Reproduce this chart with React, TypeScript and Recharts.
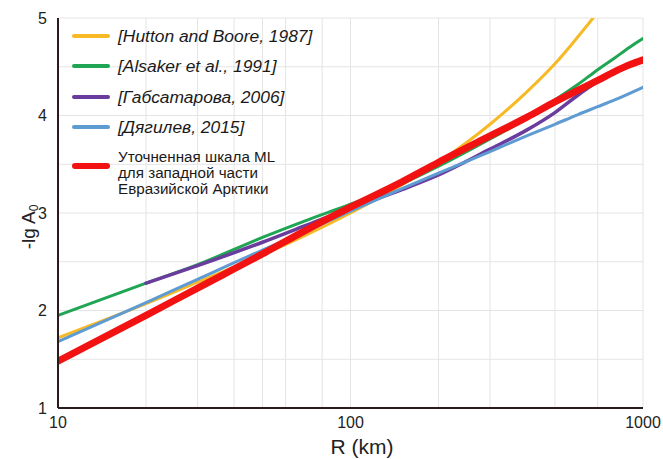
import React from "react";
import { LineChart, Line, XAxis, YAxis, CartesianGrid } from "recharts";

// -lg A0 calibration curves
const huttonR = [10, 20, 30, 50, 70, 100, 150, 200, 300, 400, 500, 600, 675];
const huttonA = [1.72, 2.07, 2.29, 2.57, 2.77, 3.0, 3.29, 3.52, 3.91, 4.24, 4.53, 4.81, 5.0];

const alsakerR = [10, 20, 30, 50, 70, 100, 150, 200, 300, 400, 500, 600, 700, 800, 900, 1000];
const alsakerA = [1.95, 2.28, 2.47, 2.75, 2.92, 3.09, 3.3, 3.48, 3.76, 3.97, 4.16, 4.32, 4.47, 4.59, 4.7, 4.79];

const gabsR = [20, 30, 50, 70, 100, 150, 200, 300, 400, 500, 600, 700, 750];
const gabsA = [2.28, 2.46, 2.7, 2.87, 3.05, 3.24, 3.39, 3.655, 3.85, 4.03, 4.21, 4.35, 4.4];

const dyagR = [10, 20, 30, 50, 70, 100, 150, 200, 300, 400, 500, 600, 700, 800, 1000];
const dyagA = [1.68, 2.08, 2.32, 2.62, 2.81, 3.02, 3.25, 3.41, 3.63, 3.79, 3.91, 4.01, 4.09, 4.16, 4.29];

const refinedR = [10, 20, 30, 50, 70, 100, 150, 200, 300, 400, 500, 600, 700, 800, 900, 1000];
const refinedA = [1.48, 1.95, 2.23, 2.58, 2.82, 3.06, 3.32, 3.52, 3.79, 3.98, 4.14, 4.26, 4.36, 4.45, 4.52, 4.57];

const xTicks = [10, 100, 1000];
const yTicks = [1, 2, 3, 4, 5];
const xGrid = [20, 30, 40, 50, 60, 70, 80, 90, 100, 200, 300, 400, 500, 600, 700, 800, 900, 1000];
const yGrid = [1.5, 2, 2.5, 3, 3.5, 4, 4.5, 5];

const toRows = (r: number[], a: number[]) => r.map((x, i) => ({ r: x, a: a[i] }));

const series = [
  { key: "hutton", name: "[Hutton and Boore, 1987]", data: toRows(huttonR, huttonA), color: "#F7B924", width: 3, italic: true },
  { key: "alsaker", name: "[Alsaker et al., 1991]", data: toRows(alsakerR, alsakerA), color: "#1FA553", width: 3, italic: true },
  { key: "gabs", name: "[Габсатарова, 2006]", data: toRows(gabsR, gabsA), color: "#6A3C9E", width: 3.5, italic: true },
  { key: "dyag", name: "[Дягилев, 2015]", data: toRows(dyagR, dyagA), color: "#5E9BD3", width: 3, italic: true },
  { key: "refined", name: "Уточненная шкала ML\nдля западной части\nЕвразийской Арктики", data: toRows(refinedR, refinedA), color: "#F21212", width: 7, italic: false },
];

const FONT = '"Liberation Sans", Arial, sans-serif';

function LegendBox() {
  const rowsY = [36, 66, 97, 127, 166];
  return (
    <div style={{ position: "absolute", left: 0, top: 0, fontFamily: FONT, color: "#1a1a1a" }}>
      {series.map((s, i) => (
        <div key={s.key}>
          <div
            style={{
              position: "absolute",
              left: 72,
              top: rowsY[i] - (s.italic ? 2 : 3),
              width: 38,
              height: s.italic ? 4 : 6,
              background: s.color,
              borderRadius: 3,
            }}
          />
          <div
            style={{
              position: "absolute",
              left: 118,
              top: s.italic ? rowsY[i] - 11 : rowsY[i] - 17,
              whiteSpace: "pre",
              fontStyle: s.italic ? "italic" : "normal",
              fontSize: s.italic ? 17.4 : 15.2,
              lineHeight: s.italic ? "22px" : "16px",
            }}
          >
            {s.name}
          </div>
        </div>
      ))}
    </div>
  );
}

export default function App() {
  return (
    <div style={{ position: "absolute", left: 0, top: 0, width: 663, height: 459, background: "#fff" }}>
      <LineChart width={663} height={459} margin={{ top: 18, right: 20, bottom: 0, left: 0 }}>
        <CartesianGrid
          stroke="#e4e4e4"
          strokeWidth={1}
          horizontalValues={yGrid}
          verticalValues={xGrid}
        />
        <XAxis
          dataKey="r"
          type="number"
          scale="log"
          domain={[10, 1000]}
          ticks={xTicks}
          allowDataOverflow
          height={51}
          tickSize={0}
          tickMargin={9}
          axisLine={{ stroke: "#2b1b1b", strokeWidth: 2 }}
          tick={{ fill: "#222", fontSize: 16, fontFamily: FONT }}
          label={{
            content: () => (
              <text x={362} y={454} textAnchor="middle" fontSize={21} fontFamily={FONT} fill="#222">
                R (km)
              </text>
            ),
          }}
        />
        <YAxis
          dataKey="a"
          type="number"
          domain={[1, 5]}
          ticks={yTicks}
          allowDataOverflow
          width={58}
          tickSize={0}
          tickMargin={11}
          axisLine={{ stroke: "#2b1b1b", strokeWidth: 2 }}
          tick={{ fill: "#222", fontSize: 16, fontFamily: FONT }}
          label={{
            content: () => (
              <text
                x={35}
                y={227}
                transform="rotate(-90 35 227)"
                textAnchor="middle"
                fontSize={19}
                fontFamily={FONT}
                fill="#222"
              >
                -lg A<tspan fontSize={12} dy={3}>0</tspan>
              </text>
            ),
          }}
        />
        {series.map((s) => (
          <Line
            key={s.key}
            data={s.data}
            dataKey="a"
            type="monotone"
            stroke={s.color}
            strokeWidth={s.width}
            dot={false}
            isAnimationActive={false}
            strokeLinecap="round"
          />
        ))}
      </LineChart>
      <LegendBox />
    </div>
  );
}
